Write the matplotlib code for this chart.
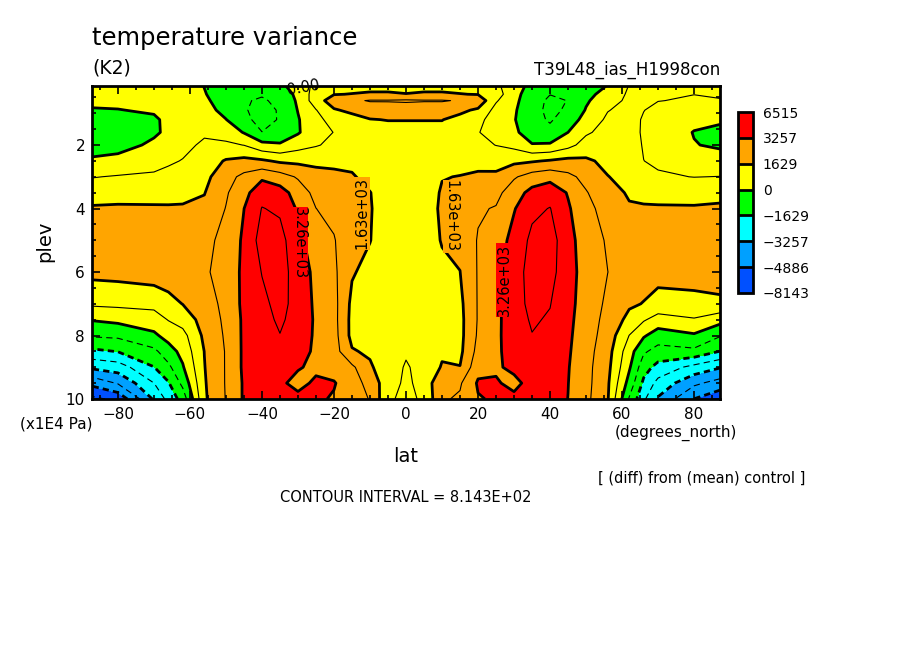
import numpy as np
import matplotlib
matplotlib.use("Agg")
import matplotlib.pyplot as plt
from matplotlib.ticker import MultipleLocator

# grid (lat in degrees_north, plev in 1E4 Pa)
lat = [-87.2, -80, -70, -66, -62, -56, -50, -45, -40, -35, -30, -25, -20, -15, -10, -5, 0,
       5, 10, 15, 20, 25, 30, 35, 40, 45, 50, 56, 62, 66, 70, 80, 87.2]
plev = [0.14, 0.4, 0.6, 0.9, 1.2, 1.6, 2.0, 2.5, 3.0, 3.5, 4.0, 5.0, 6.0, 7.0, 7.5,
        8.0, 8.5, 9.0, 9.5, 10.0]

# temperature variance difference (K2), one profile per latitude, top to bottom
profiles = [
    [350, 250, 150, -50, -300, -450, -300, 100, 780, 1250, 1720, 2150, 1850, 950, 50, -720, -1800, -3100, -4650, -5900],
    [350, 250, 150, -20, -300, -450, -300, 250, 870, 1300, 1750, 2200, 1900, 1000, 200, -650, -1600, -2850, -4000, -5500],
    [500, 400, 300, 80, -100, -120, 150, 500, 950, 1350, 1720, 2150, 2050, 1050, 450, -150, -1000, -1650, -2450, -3150],
    [500, 420, 360, 250, 150, 150, 350, 700, 1050, 1400, 1700, 2100, 2100, 1350, 850, 300, -350, -1000, -1700, -2200],
    [500, 450, 420, 400, 400, 450, 600, 850, 1150, 1450, 1700, 2100, 2100, 1650, 1150, 550, 250, -80, -600, -1300],
    [-20, 50, 150, 300, 500, 700, 950, 1200, 1400, 1600, 1800, 2250, 2350, 2100, 1950, 1800, 1640, 1600, 1550, 1500],
    [-400, -450, -400, -250, 20, 500, 950, 1700, 2150, 2350, 2470, 2650, 2700, 2650, 2600, 2550, 2500, 2500, 2500, 2480],
    [-600, -700, -750, -750, -600, -50, 800, 1850, 2650, 3000, 3250, 3400, 3450, 3450, 3400, 3400, 3400, 3400, 3350, 3350],
    [-600, -750, -900, -1050, -1100, -800, 250, 1750, 3100, 3800, 4100, 4400, 4100, 3900, 3800, 3750, 3700, 3650, 3600, 3550],
    [-200, -500, -650, -750, -750, -550, 100, 1500, 2800, 3600, 3950, 4350, 4400, 4300, 4200, 4050, 3800, 3500, 3350, 3400],
    [400, 200, 120, 30, -60, -80, 500, 1450, 2350, 2900, 3150, 3500, 3700, 3800, 3750, 3650, 3500, 3300, 3100, 3400],
    [1000, 1200, 1250, 780, 600, 550, 750, 1450, 1900, 2200, 2450, 2800, 3050, 3100, 3150, 3150, 3150, 3150, 3350, 3350],
    [1350, 1600, 2050, 1550, 1100, 830, 1000, 1450, 1800, 2000, 2200, 2500, 2600, 2700, 2700, 2750, 2800, 3000, 3300, 3200],
    [1400, 1650, 2300, 1800, 1350, 1200, 1150, 1450, 1700, 1800, 1800, 1800, 1700, 1450, 1400, 1400, 1700, 2600, 2900, 2850],
    [1450, 1700, 2500, 2000, 1600, 1350, 1200, 1250, 1400, 1650, 1680, 1650, 1400, 1300, 1300, 1350, 1500, 1750, 2100, 2400],
    [1450, 1700, 2500, 2050, 1650, 1400, 1300, 1250, 1250, 1250, 1250, 1200, 1150, 1100, 1050, 1000, 950, 1100, 1200, 950],
    [1400, 1650, 2550, 2000, 1650, 1400, 1300, 1250, 1250, 1250, 1200, 1150, 1100, 1050, 1000, 950, 880, 760, 650, 600],
    [1450, 1700, 2500, 2000, 1650, 1400, 1300, 1250, 1250, 1250, 1250, 1200, 1150, 1100, 1050, 1000, 950, 1000, 1100, 950],
    [1450, 1700, 2500, 2000, 1650, 1400, 1300, 1400, 1600, 1700, 1750, 1680, 1450, 1350, 1350, 1400, 1500, 1700, 2300, 2350],
    [1400, 1650, 2380, 1800, 1400, 1200, 1150, 1400, 1650, 1750, 1800, 1800, 1620, 1450, 1400, 1400, 1450, 1650, 2350, 2550],
    [1350, 1600, 2200, 1500, 1050, 850, 1000, 1400, 1750, 2100, 2350, 2500, 2500, 2500, 2500, 2550, 2700, 3000, 3350, 3200],
    [1000, 1200, 900, 550, 400, 500, 800, 1300, 1800, 2200, 2500, 2800, 2950, 3050, 3050, 3100, 3150, 3200, 3300, 3350],
    [300, 250, 200, 100, 50, 150, 600, 1450, 2350, 2900, 3200, 3550, 3750, 3800, 3750, 3650, 3500, 3350, 3150, 3350],
    [-200, -400, -500, -550, -550, -400, 50, 1550, 2800, 3500, 3900, 4250, 4350, 4250, 4150, 4050, 3800, 3550, 3400, 3450],
    [-500, -800, -950, -1000, -900, -600, 100, 1700, 3000, 3750, 4100, 4450, 4350, 4100, 4000, 3900, 3800, 3700, 3600, 3550],
    [-500, -700, -800, -700, -450, 0, 550, 1850, 2650, 3200, 3350, 3500, 3550, 3500, 3450, 3400, 3350, 3300, 3270, 3250],
    [-250, -200, -100, 50, 300, 700, 1150, 1750, 2200, 2500, 2700, 2900, 2950, 2900, 2850, 2800, 2750, 2700, 2700, 2650],
    [20, 250, 450, 780, 950, 1100, 1250, 1450, 1650, 1900, 2100, 2350, 2450, 2300, 2200, 2100, 1950, 1850, 1750, 1700],
    [850, 950, 1000, 1050, 1050, 1100, 1150, 1250, 1400, 1550, 1700, 1950, 2000, 1750, 1400, 800, 350, 100, -300, -900],
    [900, 930, 900, 830, 750, 720, 760, 820, 1100, 1450, 1700, 2000, 1950, 1600, 900, 100, -700, -1300, -1800, -2300],
    [950, 900, 830, 650, 550, 500, 550, 700, 900, 1400, 1700, 2000, 1900, 1350, 500, -400, -1100, -1900, -2700, -3350],
    [900, 820, 750, 500, 200, -30, 30, 400, 800, 1350, 1700, 2050, 1950, 1400, 750, -100, -1000, -2700, -3900, -4900],
    [1000, 880, 780, 500, 150, -250, -100, 300, 830, 1400, 1750, 2100, 1950, 1500, 300, -750, -1650, -3200, -4400, -5500],
]

fill_levels = [-8143, -4886, -3257, -1629, 0, 1629, 3257, 6515]
fill_colors = ["#0050ff", "#00a0ff", "#00ffff", "#00ff00", "#ffff00", "#ffa500", "#ff0000"]
cbar_labels = ["\u22128143", "\u22124886", "\u22123257", "\u22121629", "0", "1629", "3257", "6515"]
thick_levels = [-4886, -3257, -1629, 0, 1629, 3257]
thin_levels = [-5700, -4071, -2443, -814.3, 814.3, 2443, 4071]

# contour labels: (lat, plev, text, rotation, background)
line_labels = [
    (-29.6, 5.1, "3.26e+03", -90, "#ff0000"),
    (-12.2, 4.15, "1.63e+03", 90, "#ffa500"),
    (12.6, 4.25, "1.63e+03", -90, "#ffa500"),
    (27.3, 6.25, "3.26e+03", 90, "#ff0000"),
]

W, H = 904, 654


def fx(x):
    return x / W


def fy(y):
    return 1 - y / H


plt.rcParams["font.family"] = "DejaVu Sans"
plt.rcParams["lines.scale_dashes"] = False
plt.rcParams["lines.dashed_pattern"] = [4.5, 3.0]

fig = plt.figure(figsize=(W / 100, H / 100), dpi=100)
ax = fig.add_axes([fx(92), fy(399), (720 - 92) / W, (399 - 86) / H])

z = np.array(profiles).T
cf = ax.contourf(lat, plev, z, levels=fill_levels, colors=fill_colors)
ax.contour(lat, plev, z, levels=thin_levels, colors="k", linewidths=0.8)
ax.contour(lat, plev, z, levels=thick_levels, colors="k", linewidths=2.0)

for x, y, s, rot, bg in line_labels:
    ax.text(x, y, s, rotation=rot, ha="center", va="center", fontsize=10.5,
            bbox=dict(boxstyle="square,pad=0.05", fc=bg, ec="none"), zorder=5)
ax.text(-28.5, 0.2, "0.00", ha="center", va="center", fontsize=10.5, rotation=10,
        clip_on=False, zorder=6)

ax.set_xlim(-87.2, 87.2)
ax.set_ylim(10, 0.14)
ax.xaxis.set_major_locator(MultipleLocator(20))
ax.xaxis.set_minor_locator(MultipleLocator(5))
ax.yaxis.set_major_locator(MultipleLocator(2))
ax.yaxis.set_minor_locator(MultipleLocator(0.5))
ax.tick_params(which="both", direction="in", top=True, right=True, width=1.2, labelsize=11)
ax.tick_params(which="major", length=6)
ax.tick_params(which="minor", length=3)
ax.tick_params(axis="x", which="major", pad=6)
ax.tick_params(axis="y", which="major", pad=5)
for sp in ax.spines.values():
    sp.set_linewidth(2)

# colour key
cax = fig.add_axes([fx(738), fy(293), 15 / W, (293 - 112) / H])
cb = fig.colorbar(cf, cax=cax, spacing="uniform", drawedges=True)
cb.set_ticks(fill_levels)
cb.set_ticklabels(cbar_labels)
cb.outline.set_linewidth(2)
cb.dividers.set_linewidth(2)
cax.tick_params(length=0, labelsize=10, pad=7)

fig.text(fx(92), fy(45), "temperature variance", fontsize=17.5, va="baseline")
fig.text(fx(92), fy(68), "(K2)", fontsize=13.5, va="center")
fig.text(fx(720), fy(70), "T39L48_ias_H1998con", fontsize=12, va="center", ha="right")
fig.text(fx(45), fy(241), "plev", fontsize=14, rotation=90, ha="center", va="center")
fig.text(fx(406), fy(456), "lat", fontsize=14, ha="center", va="center")
fig.text(fx(56), fy(424), "(x1E4 Pa)", fontsize=11, ha="center", va="center")
fig.text(fx(676), fy(433), "(degrees_north)", fontsize=11, ha="center", va="center")
fig.text(fx(702), fy(478), "[ (diff) from (mean) control ]", fontsize=10.5, ha="center", va="center")
fig.text(fx(406), fy(497), "CONTOUR INTERVAL = 8.143E+02", fontsize=10.5, ha="center", va="center")

fig.savefig("out.png", dpi=100)
